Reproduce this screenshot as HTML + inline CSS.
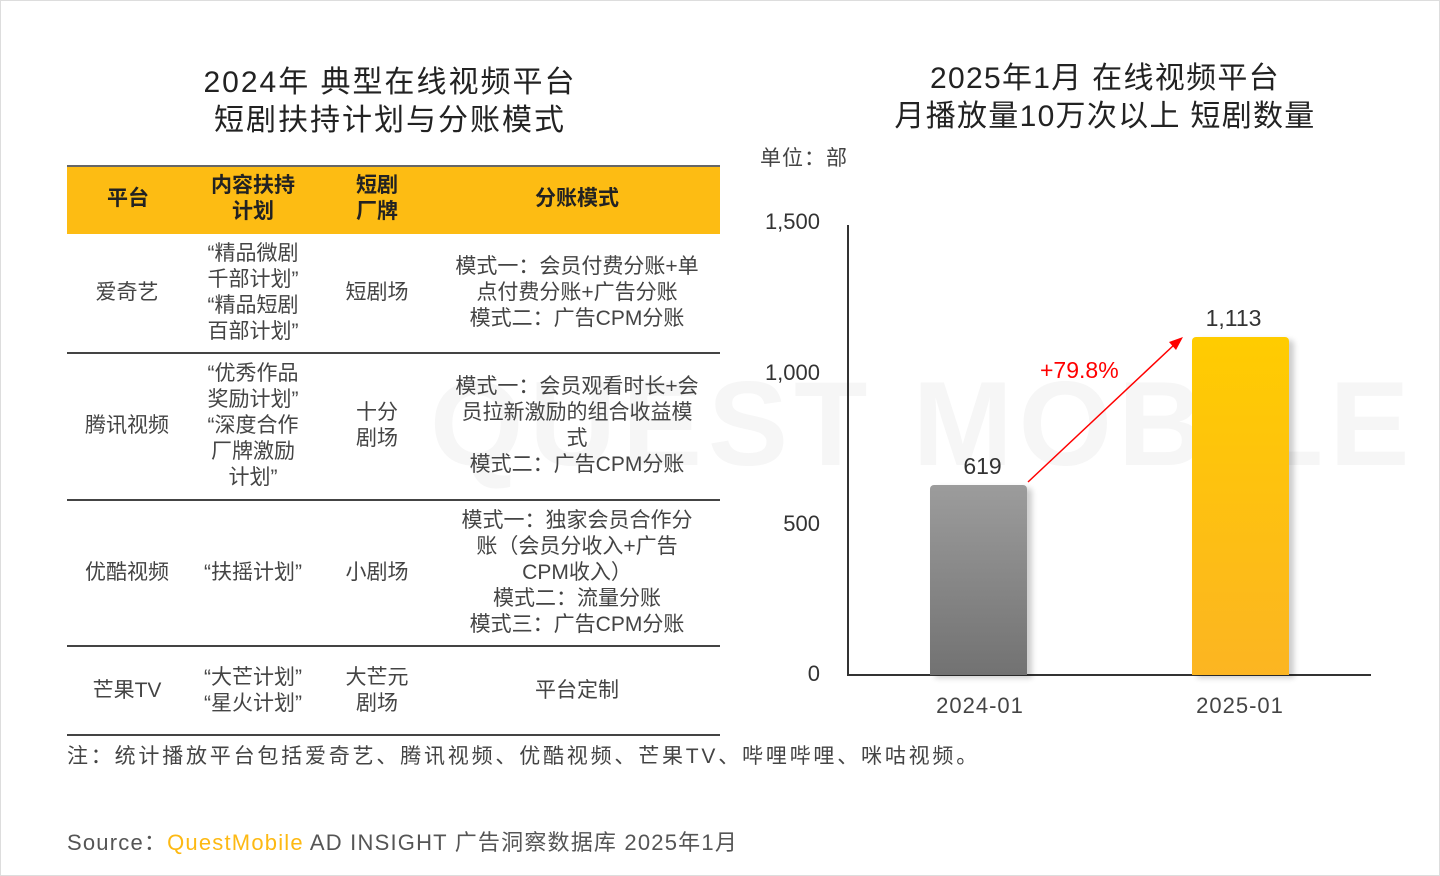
<!DOCTYPE html>
<html><head><meta charset="utf-8"><style>
body{margin:0;width:1440px;height:876px;background:#fff;font-family:"Liberation Sans","Noto Sans CJK SC",sans-serif;color:#333;position:relative;overflow:hidden}
.a{position:absolute}
.c{position:absolute;text-align:center;transform:translate(-50%,-50%);font-size:21px;line-height:26px;color:#444;white-space:nowrap}
.h{font-weight:bold;color:#222}
.ln{position:absolute;left:67px;width:653px;height:2px;background:#444}
.t{font-size:30px;line-height:38px;text-align:center;color:#222}
.yl{position:absolute;font-size:22px;color:#333;text-align:right;width:60px;left:760px}
</style></head><body>
<div class="a" style="left:0;top:0;width:1438px;height:874px;border:1px solid #ddd"></div>
<div class="a" style="left:430px;top:355px;font-size:120px;color:#f6f6f6;font-weight:bold;letter-spacing:6px;white-space:nowrap">QUEST MOBILE</div>
<div class="a t" style="left:100px;top:64px;width:580px;letter-spacing:2px">2024年 典型在线视频平台<br>短剧扶持计划与分账模式</div>
<div class="a t" style="left:840px;top:60px;width:530px;letter-spacing:1.3px">2025年1月 在线视频平台<br>月播放量10万次以上 短剧数量</div>
<div class="a" style="left:67px;top:165px;width:653px;height:67px;background:#FDBC13;border-top:2px solid #666"></div>
<div class="c h" style="left:128px;top:199px">平台</div>
<div class="c h" style="left:253px;top:199px">内容扶持<br>计划</div>
<div class="c h" style="left:377px;top:199px">短剧<br>厂牌</div>
<div class="c h" style="left:577px;top:199px">分账模式</div>
<div class="c" style="left:127px;top:293px">爱奇艺</div>
<div class="c" style="left:253px;top:293px">“精品微剧<br>千部计划”<br>“精品短剧<br>百部计划”</div>
<div class="c" style="left:377px;top:293px">短剧场</div>
<div class="c" style="left:577px;top:293px">模式一：会员付费分账+单<br>点付费分账+广告分账<br>模式二：广告CPM分账</div>
<div class="ln" style="top:352px"></div>
<div class="c" style="left:127px;top:426px">腾讯视频</div>
<div class="c" style="left:253px;top:426px">“优秀作品<br>奖励计划”<br>“深度合作<br>厂牌激励<br>计划”</div>
<div class="c" style="left:377px;top:426px">十分<br>剧场</div>
<div class="c" style="left:577px;top:426px">模式一：会员观看时长+会<br>员拉新激励的组合收益模<br>式<br>模式二：广告CPM分账</div>
<div class="ln" style="top:499px"></div>
<div class="c" style="left:127px;top:573px">优酷视频</div>
<div class="c" style="left:253px;top:573px">“扶摇计划”</div>
<div class="c" style="left:377px;top:573px">小剧场</div>
<div class="c" style="left:577px;top:573px">模式一：独家会员合作分<br>账（会员分收入+广告<br>CPM收入）<br>模式二：流量分账<br>模式三：广告CPM分账</div>
<div class="ln" style="top:645px"></div>
<div class="c" style="left:127px;top:691px">芒果TV</div>
<div class="c" style="left:253px;top:691px">“大芒计划”<br>“星火计划”</div>
<div class="c" style="left:377px;top:691px">大芒元<br>剧场</div>
<div class="c" style="left:577px;top:691px">平台定制</div>
<div class="ln" style="top:734px"></div>
<div class="a" style="left:67px;top:740px;font-size:21px;color:#444;letter-spacing:2.8px;white-space:nowrap">注：统计播放平台包括爱奇艺、腾讯视频、优酷视频、芒果TV、哔哩哔哩、咪咕视频。</div>
<div class="a" style="left:67px;top:825px;font-size:22px;color:#555;letter-spacing:1.2px;white-space:nowrap">Source：<span style="color:#FDB913">QuestMobile</span> AD INSIGHT 广告洞察数据库 2025年1月</div>
<div class="a" style="left:760px;top:142px;font-size:21px;color:#444;letter-spacing:1px">单位：部</div>
<div class="yl" style="top:209px">1,500</div>
<div class="yl" style="top:360px">1,000</div>
<div class="yl" style="top:511px">500</div>
<div class="yl" style="top:661px">0</div>
<div class="a" style="left:847px;top:225px;width:2px;height:451px;background:#333"></div>
<div class="a" style="left:847px;top:674px;width:524px;height:2px;background:#333"></div>
<div class="a" style="left:930px;top:485px;width:97px;height:190px;border-radius:4px 4px 0 0;background:linear-gradient(#9c9c9c,#727272);box-shadow:5px 3px 6px rgba(0,0,0,.2)"></div>
<div class="a" style="left:1192px;top:337px;width:97px;height:338px;border-radius:4px 4px 0 0;background:linear-gradient(#FFCC00,#FCB522);box-shadow:5px 3px 6px rgba(0,0,0,.2)"></div>
<div class="a" style="left:930px;top:453px;width:105px;text-align:center;font-size:23px;color:#333">619</div>
<div class="a" style="left:1185px;top:305px;width:97px;text-align:center;font-size:23px;color:#333">1,113</div>
<div class="a" style="left:1040px;top:357px;font-size:23px;color:#f00">+79.8%</div>
<svg class="a" style="left:0;top:0" width="1440" height="876"><line x1="1028" y1="482" x2="1175" y2="344" stroke="#f00" stroke-width="1.5"/><polygon points="1183,337 1169,342 1176,350" fill="#f00"/></svg>
<div class="a" style="left:925px;top:693px;width:110px;text-align:center;font-size:22px;color:#444;letter-spacing:1px">2024-01</div>
<div class="a" style="left:1185px;top:693px;width:110px;text-align:center;font-size:22px;color:#444;letter-spacing:1px">2025-01</div>
</body></html>
